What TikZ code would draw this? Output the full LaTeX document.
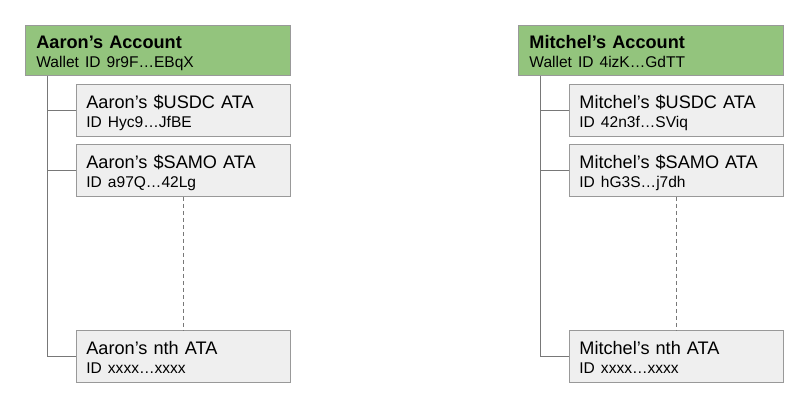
\documentclass[tikz,border=0pt]{standalone}
\usepackage{fontspec}
\setmainfont{Liberation Sans}

\definecolor{walletgreen}{HTML}{93C47D}
\definecolor{atagray}{HTML}{EFEFEF}
\definecolor{edgegray}{HTML}{999999}
\definecolor{linegray}{HTML}{787878}

\newcommand{\namefont}{\fontsize{18.2}{19bp}\selectfont}
\newcommand{\idfont}{\fontsize{15.6}{19bp}\selectfont}

\tikzset{
  box/.style={rectangle, anchor=north west, draw=edgegray, line width=0.8bp,
    inner ysep=0pt, align=left, font=\namefont},
  acct/.style={box, fill=walletgreen, inner xsep=11bp, text width=243bp,
    text height=23bp, text depth=27bp},
  ata/.style={box, fill=atagray, inner xsep=10bp, text width=194bp,
    text height=24bp, text depth=28bp},
  link/.style={draw=linegray, line width=1bp},
  gap/.style={link, dashed, dash pattern=on 4bp off 3bp, line width=0.8bp}
}

\begin{document}
\begin{tikzpicture}[x=1bp, y=-1bp]
\useasboundingbox (0,0) rectangle (807,409);

% Aaron's wallet
\node[acct] (aacc) at (25,25)
    {{\bfseries Aaron’s Account}\\\idfont Wallet ID 9r9F…EBqX};
\node[ata] (ausdc) at (76,84)
    {Aaron’s \$USDC ATA\\\idfont ID Hyc9…JfBE};
\node[ata] (asamo) at (76,144)
    {Aaron’s \$SAMO ATA\\\idfont ID a97Q…42Lg};
\node[ata] (anth) at (76,330)
    {Aaron’s nth ATA\\\idfont ID xxxx…xxxx};

% Mitchel's wallet
\node[acct] (macc) at (518,25)
    {{\bfseries Mitchel’s Account}\\\idfont Wallet ID 4izK…GdTT};
\node[ata] (musdc) at (569,84)
    {Mitchel’s \$USDC ATA\\\idfont ID 42n3f…SViq};
\node[ata] (msamo) at (569,144)
    {Mitchel’s \$SAMO ATA\\\idfont ID hG3S…j7dh};
\node[ata] (mnth) at (569,330)
    {Mitchel’s nth ATA\\\idfont ID xxxx…xxxx};

% Trunks from the wallets
\coordinate (atrunk) at ([xshift=22bp]aacc.south west);
\coordinate (mtrunk) at ([xshift=22bp]macc.south west);

\draw[link] (atrunk) |- (anth.west);
\draw[link] (ausdc.west) -- (ausdc.west -| atrunk);
\draw[link] (asamo.west) -- (asamo.west -| atrunk);
\draw[gap] (asamo.south) -- (anth.north);

\draw[link] (mtrunk) |- (mnth.west);
\draw[link] (musdc.west) -- (musdc.west -| mtrunk);
\draw[link] (msamo.west) -- (msamo.west -| mtrunk);
\draw[gap] (msamo.south) -- (mnth.north);

\end{tikzpicture}
\end{document}
